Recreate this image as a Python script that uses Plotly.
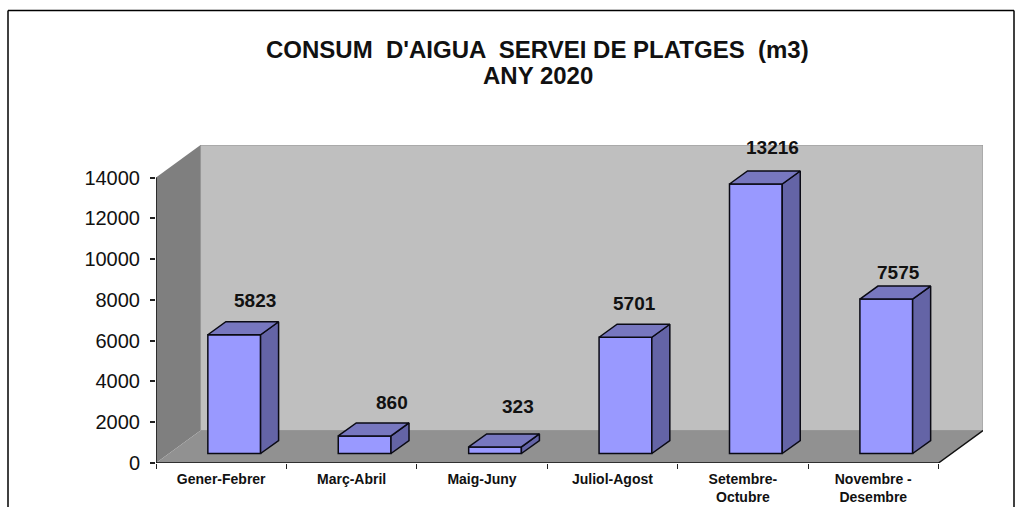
import plotly.graph_objects as go

categories = ["Gener-Febrer", "Març-Abril", "Maig-Juny", "Juliol-Agost", "Setembre-<br>Octubre", "Novembre -<br>Desembre"]
values = [5823, 860, 323, 5701, 13216, 7575]
value_labels = ["5823", "860", "323", "5701", "13216", "7575"]
y_ticks = [0, 2000, 4000, 6000, 8000, 10000, 12000, 14000]
title_lines = ["CONSUM  D'AIGUA  SERVEI DE PLATGES  (m3)", "ANY 2020"]

# label nudges, pixels
label_dx = [21, 27, 23, 9, 17, 12]
label_dy = [34, 33, 40, 34, 36, 27]

n = len(categories)
Y_MAX = 14000
PLOT_H = 318
PLOT_W = 827
MARGIN_B = 44
PX_X = 782 / 6          # px per category
PX_Y = 285.5 / 14000    # px per value unit
WALL_DX = 44.5 / PX_X
WALL_DY = 32.5 / PX_Y
FRONT_DX = 13 / PX_X
FRONT_DY = 9.5 / PX_Y
BAR_DX = 18 / PX_X
BAR_DY = 13 / PX_Y
BAR_W = 52.7 / PX_X

centres = [i + 0.5 for i in range(n)]
bar_x = [c + FRONT_DX for c in centres]


def path(points):
    return "M " + " L ".join(f"{x},{y}" for x, y in points) + " Z"


def poly(points):
    xs = [p[0] for p in points] + [points[0][0], None]
    ys = [p[1] for p in points] + [points[0][1], None]
    return xs, ys


side_x, side_y, top_x, top_y = [], [], [], []
for x, v in zip(bar_x, values):
    xl, xr = x - BAR_W / 2, x + BAR_W / 2
    b, t = FRONT_DY, FRONT_DY + v
    a, c = poly([(xr, b), (xr, t), (xr + BAR_DX, t + BAR_DY), (xr + BAR_DX, b + BAR_DY)])
    side_x += a
    side_y += c
    a, c = poly([(xl, t), (xr, t), (xr + BAR_DX, t + BAR_DY), (xl + BAR_DX, t + BAR_DY)])
    top_x += a
    top_y += c

fig = go.Figure()
fig.add_trace(go.Bar(
    x=bar_x, y=values, base=[FRONT_DY] * n, width=BAR_W,
    marker=dict(color="#9999FF", line=dict(color="#0a0a14", width=1.5)),
    showlegend=False, hoverinfo="skip",
))
fig.add_trace(go.Scatter(x=side_x, y=side_y, mode="lines", fill="toself", fillcolor="#6464A6",
                         line=dict(color="#0a0a14", width=1.5), showlegend=False, hoverinfo="skip", cliponaxis=False))
fig.add_trace(go.Scatter(x=top_x, y=top_y, mode="lines", fill="toself", fillcolor="#7777BF",
                         line=dict(color="#0a0a14", width=1.5), showlegend=False, hoverinfo="skip", cliponaxis=False))
fig.add_trace(go.Scatter(x=[0, 0], y=[0, Y_MAX], mode="lines", line=dict(color="#111111", width=1.5),
                         showlegend=False, hoverinfo="skip", cliponaxis=False))
fig.add_trace(go.Scatter(x=[0, n, n + WALL_DX], y=[0, 0, WALL_DY], mode="lines", line=dict(color="#111111", width=1.5),
                         showlegend=False, hoverinfo="skip", cliponaxis=False))


def px_to_paper_y(py):
    return (507 - py - MARGIN_B) / PLOT_H


TOP = px_to_paper_y(10.5)
LEFT = -148 / PLOT_W
RIGHT = 858 / PLOT_W
frame = dict(color="black", width=1.5)
shapes = [
    dict(type="path", xref="x", yref="y", layer="below", fillcolor="#7F7F7F", line=dict(width=0),
         path=path([(0, 0), (0, Y_MAX), (WALL_DX, Y_MAX + WALL_DY), (WALL_DX, WALL_DY)])),
    dict(type="path", xref="x", yref="y", layer="below", fillcolor="#919191", line=dict(width=0),
         path=path([(0, 0), (n, 0), (n + WALL_DX, WALL_DY), (WALL_DX, WALL_DY)])),
    dict(type="path", xref="x", yref="y", layer="below", fillcolor="#BFBFBF", line=dict(color="#969696", width=1),
         path=path([(WALL_DX, WALL_DY), (n + WALL_DX, WALL_DY), (n + WALL_DX, Y_MAX + WALL_DY), (WALL_DX, Y_MAX + WALL_DY)])),
    # outer frame of the picture
    dict(type="line", xref="paper", yref="paper", x0=LEFT, x1=LEFT, y0=-0.2, y1=TOP, line=frame),
    dict(type="line", xref="paper", yref="paper", x0=LEFT, x1=RIGHT, y0=TOP, y1=TOP, line=frame),
    dict(type="line", xref="paper", yref="paper", x0=RIGHT, x1=RIGHT, y0=-0.2, y1=TOP, line=frame),
]

annotations = [
    dict(x=x, y=FRONT_DY + v, xref="x", yref="y", text=t, showarrow=False, xshift=dx, yshift=dy,
         xanchor="center", yanchor="middle", font=dict(family="Liberation Sans", size=19, color="#111111"))
    for x, v, t, dx, dy in zip(bar_x, values, [f"<b>{s}</b>" for s in value_labels], label_dx, label_dy)
]
for line, py in zip(title_lines, [50, 75]):
    annotations.append(dict(
        x=(537.5 - 156) / PLOT_W, y=px_to_paper_y(py), xref="paper", yref="paper", showarrow=False,
        text=f"<b>{line}</b>", xanchor="center", yanchor="middle",
        font=dict(family="Liberation Sans", size=24, color="#111111"),
    ))

fig.update_layout(
    template="none",
    width=1030, height=507, autosize=False,
    margin=dict(l=156, r=47, t=145, b=MARGIN_B, pad=0),
    paper_bgcolor="white", plot_bgcolor="rgba(0,0,0,0)",
    showlegend=False, shapes=shapes, annotations=annotations,
    xaxis=dict(range=[0, n + WALL_DX], showgrid=False, zeroline=False, showline=False, automargin=False,
               tickmode="array", tickvals=centres, ticktext=[f"<b>{c}</b>" for c in categories], ticks="",
               ticklabelstandoff=6,
               tickfont=dict(family="Liberation Sans", size=14, color="#111111"),
               minor=dict(tickmode="array", tickvals=list(range(n + 1)), ticks="outside", ticklen=5, tickwidth=1, tickcolor="#222222", showgrid=False)),
    yaxis=dict(range=[0, Y_MAX + WALL_DY], showgrid=False, zeroline=False, showline=False, automargin=False,
               tickmode="array", tickvals=y_ticks, ticktext=[str(t) for t in y_ticks], ticks="outside", ticklen=5, tickwidth=1.5, tickcolor="#222222",
               ticklabelstandoff=6,
               tickfont=dict(family="Liberation Sans", size=20, color="#111111")),
)

fig.write_html("out.html", config={"displayModeBar": False},
               post_script="document.body.style.margin='0';document.body.style.overflow='hidden';")
